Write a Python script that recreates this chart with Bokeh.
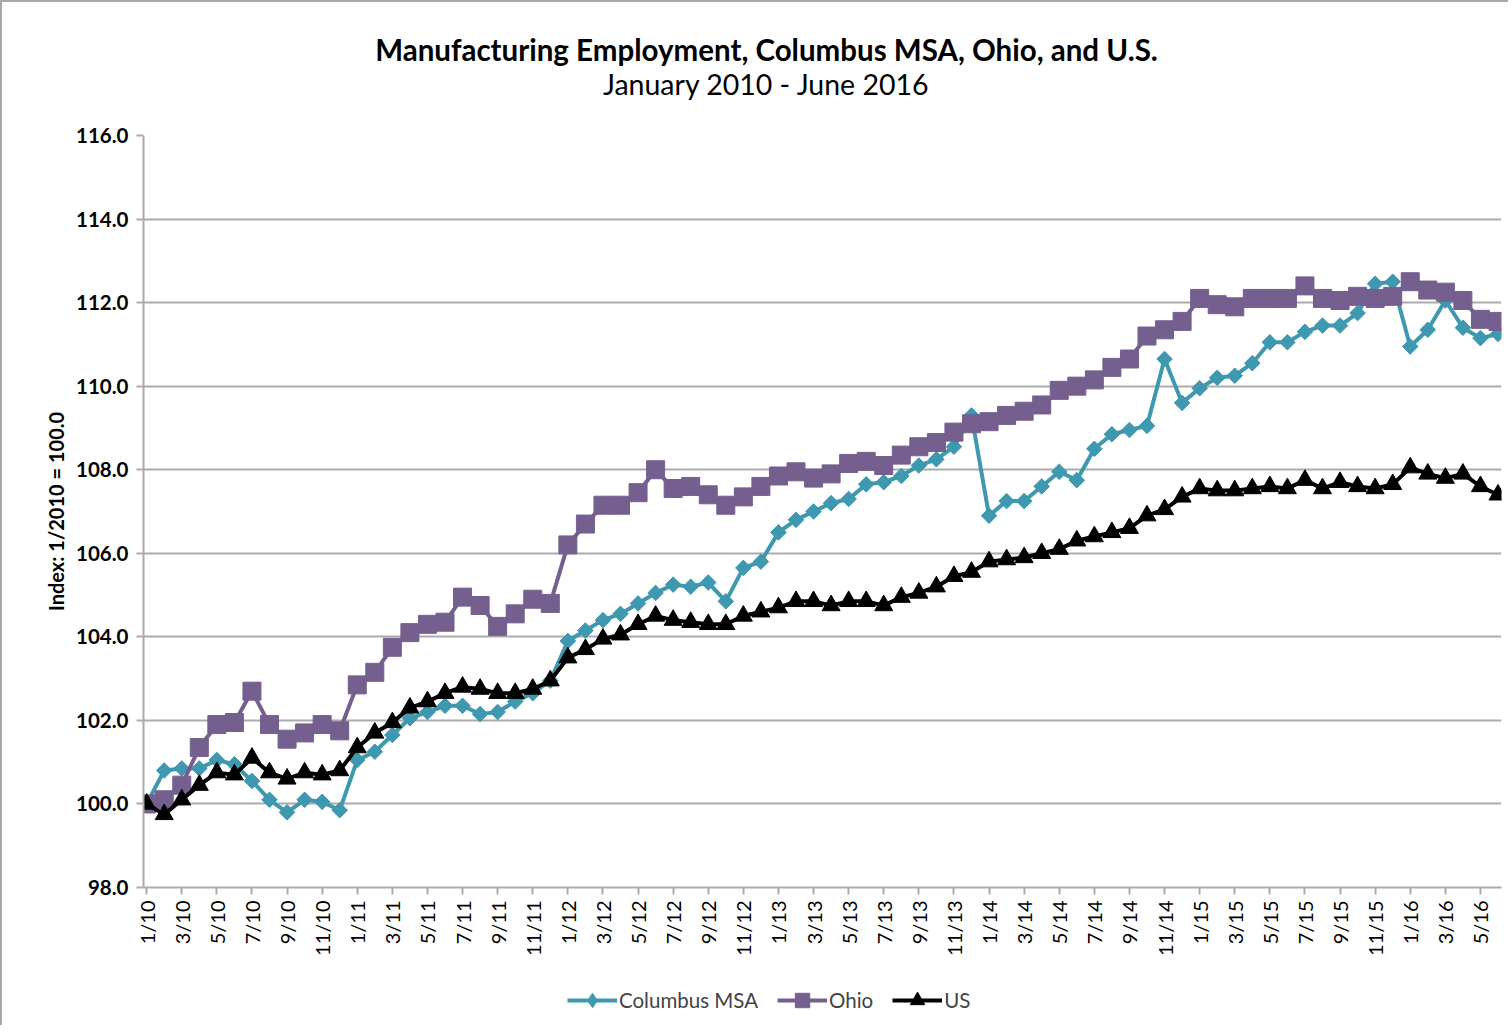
import math
from bokeh.plotting import figure
from bokeh.layouts import column
from bokeh.models import (Legend, LegendItem, Label, FixedTicker, NumeralTickFormatter,
                          Range1d)
from bokeh.embed import file_html
from bokeh.resources import INLINE

months = ["1/10","2/10","3/10","4/10","5/10","6/10","7/10","8/10","9/10","10/10","11/10","12/10",
          "1/11","2/11","3/11","4/11","5/11","6/11","7/11","8/11","9/11","10/11","11/11","12/11",
          "1/12","2/12","3/12","4/12","5/12","6/12","7/12","8/12","9/12","10/12","11/12","12/12",
          "1/13","2/13","3/13","4/13","5/13","6/13","7/13","8/13","9/13","10/13","11/13","12/13",
          "1/14","2/14","3/14","4/14","5/14","6/14","7/14","8/14","9/14","10/14","11/14","12/14",
          "1/15","2/15","3/15","4/15","5/15","6/15","7/15","8/15","9/15","10/15","11/15","12/15",
          "1/16","2/16","3/16","4/16","5/16","6/16"]

columbus = [100.0,100.8,100.85,100.85,101.05,100.95,100.55,100.1,99.8,100.1,100.05,99.85,
            101.05,101.25,101.65,102.05,102.2,102.35,102.35,102.15,102.2,102.45,102.65,102.95,
            103.9,104.15,104.4,104.55,104.8,105.05,105.25,105.2,105.3,104.85,105.65,105.8,
            106.5,106.8,107.0,107.2,107.3,107.65,107.7,107.85,108.1,108.25,108.55,109.3,
            106.9,107.25,107.25,107.6,107.95,107.75,108.5,108.85,108.95,109.05,110.65,109.6,
            109.95,110.2,110.25,110.55,111.05,111.05,111.3,111.45,111.45,111.75,112.45,112.5,
            110.95,111.35,112.05,111.4,111.15,111.25]

ohio = [100.0,100.1,100.45,101.35,101.9,101.95,102.7,101.9,101.55,101.7,101.9,101.75,
        102.85,103.15,103.75,104.1,104.3,104.35,104.95,104.75,104.25,104.55,104.9,104.8,
        106.2,106.7,107.15,107.15,107.45,108.0,107.55,107.6,107.4,107.15,107.35,107.6,
        107.85,107.95,107.8,107.9,108.15,108.2,108.1,108.35,108.55,108.65,108.9,109.1,
        109.15,109.3,109.4,109.55,109.9,110.0,110.15,110.45,110.65,111.2,111.35,111.55,
        112.1,111.95,111.9,112.1,112.1,112.1,112.4,112.1,112.05,112.15,112.1,112.15,
        112.5,112.3,112.25,112.05,111.6,111.55]

us = [100.0,99.75,100.1,100.45,100.75,100.7,101.1,100.75,100.6,100.75,100.7,100.8,
      101.35,101.7,101.95,102.3,102.45,102.65,102.8,102.75,102.65,102.65,102.75,102.95,
      103.5,103.7,103.95,104.05,104.3,104.5,104.4,104.35,104.3,104.3,104.5,104.6,
      104.7,104.85,104.85,104.75,104.85,104.85,104.75,104.95,105.05,105.2,105.45,105.55,
      105.8,105.85,105.9,106.0,106.1,106.3,106.4,106.5,106.6,106.9,107.05,107.35,
      107.55,107.5,107.5,107.55,107.6,107.55,107.75,107.55,107.7,107.6,107.55,107.65,
      108.05,107.9,107.8,107.9,107.6,107.4]

y_ticks = [98, 100, 102, 104, 106, 108, 110, 112, 114, 116]

title_text = "Manufacturing Employment, Columbus MSA, Ohio, and U.S."
subtitle_text = "January 2010 - June 2016"
y_label = "Index: 1/2010 = 100.0"
series_names = ["Columbus MSA", "Ohio", "US"]

x = list(range(len(months)))

TEAL = "#3E98AF"
PURPLE = "#755F8F"
BLACK = "#000000"
GRID = "#ABABAB"
FONT = "Lato"
W = 1506
BL, BR = 141, 7          # shared left/right borders (frames are aligned in the column)
FW = W - BL - BR         # frame width in px


def blank_fig(h):
    f = figure(width=W, height=h, output_backend="svg", toolbar_location=None,
               x_range=Range1d(0, FW), y_range=Range1d(0, h),
               x_axis_location=None, y_axis_location=None,
               min_border_left=BL, min_border_right=BR,
               min_border_top=0, min_border_bottom=0)
    f.grid.visible = False
    f.outline_line_color = None
    f.background_fill_color = "white"
    f.border_fill_color = "white"
    return f


# ---- title strip ----
TH = 120
tf = blank_fig(TH)
tf.add_layout(Label(x=766 - 143, y=TH - 47, text=title_text, text_align="center",
                    text_baseline="middle", text_font=FONT, text_font_size="29.5px",
                    text_font_style="bold", text_color="black"))
tf.add_layout(Label(x=766 - 143, y=TH - 81, text=subtitle_text, text_align="center",
                    text_baseline="middle", text_font=FONT, text_font_size="28.5px",
                    text_color="black"))

# ---- main chart ----
p = figure(width=W, height=13 + 752 + 80, output_backend="svg", toolbar_location=None,
           x_range=Range1d(-0.18, 77.2), y_range=Range1d(98, 116),
           min_border_left=BL, min_border_right=BR, min_border_top=13, min_border_bottom=80)
p.outline_line_color = None
p.background_fill_color = "white"
p.border_fill_color = "white"

p.xgrid.grid_line_color = None
p.ygrid.grid_line_color = GRID
p.ygrid.grid_line_width = 2

p.yaxis.ticker = FixedTicker(ticks=y_ticks)
p.yaxis.formatter = NumeralTickFormatter(format="0.0")
p.yaxis.minor_tick_line_color = None
p.yaxis.axis_line_color = GRID
p.yaxis.axis_line_width = 2
p.yaxis.major_tick_line_color = GRID
p.yaxis.major_tick_line_width = 2
p.yaxis.major_tick_out = 7
p.yaxis.major_tick_in = 0
p.yaxis.major_label_standoff = 8
p.yaxis.major_label_text_font = FONT
p.yaxis.major_label_text_font_size = "20.5px"
p.yaxis.major_label_text_font_style = "bold"
p.yaxis.major_label_text_color = "black"
p.yaxis.axis_label = y_label
p.yaxis.axis_label_text_font = FONT
p.yaxis.axis_label_text_font_size = "20px"
p.yaxis.axis_label_text_font_style = "bold"
p.yaxis.axis_label_text_color = "black"
p.yaxis.axis_label_standoff = 5

p.xaxis.ticker = FixedTicker(ticks=x[::2])
p.xaxis.major_label_overrides = {i: months[i] for i in x[::2]}
p.xaxis.major_label_orientation = math.pi / 2
p.xaxis.minor_tick_line_color = None
p.xaxis.axis_line_color = GRID
p.xaxis.axis_line_width = 2
p.xaxis.major_tick_line_color = GRID
p.xaxis.major_tick_line_width = 2
p.xaxis.major_tick_out = 7
p.xaxis.major_tick_in = 0
p.xaxis.major_label_standoff = 6
p.xaxis.major_label_text_font = FONT
p.xaxis.major_label_text_font_size = "20px"
p.xaxis.major_label_text_color = "black"

series = [(columbus, TEAL, dict(marker="square", angle=math.pi / 4, size=11)),
          (ohio, PURPLE, dict(marker="square", size=18)),
          (us, BLACK, dict(marker="triangle", size=18))]

for vals, col, mk in series:
    p.line(x, vals, line_color=col, line_width=4)
    p.scatter(x, vals, fill_color=col, line_color=col, **mk)

# ---- legend strip (its renderers fall outside this strip's range; only the legend shows) ----
legend_markers = ["diamond", "square", "triangle"]
LH = 58
lf = blank_fig(LH)
items = []
for name, lm, (vals, col, mk) in zip(series_names, legend_markers, series):
    r_line = lf.line(x, vals, line_color=col, line_width=4)
    r_mark = lf.scatter(x, vals, marker=lm, size=14, fill_color=col, line_color=col)
    items.append(LegendItem(label=name, renderers=[r_line, r_mark]))
legend = Legend(items=items, location=(570 - 6 - 143 + 3, 7), orientation="horizontal",
                glyph_width=50, glyph_height=36, label_standoff=2, spacing=19,
                label_text_font=FONT, label_text_font_size="20.5px",
                background_fill_alpha=0, border_line_color=None, padding=6, margin=0)
lf.add_layout(legend)

layout = column(tf, p, lf, spacing=0)
layout.styles = {"border-top": "2px solid #A8A8A8", "border-left": "2px solid #A8A8A8"}

open("out.html", "w").write(file_html(layout, INLINE))
